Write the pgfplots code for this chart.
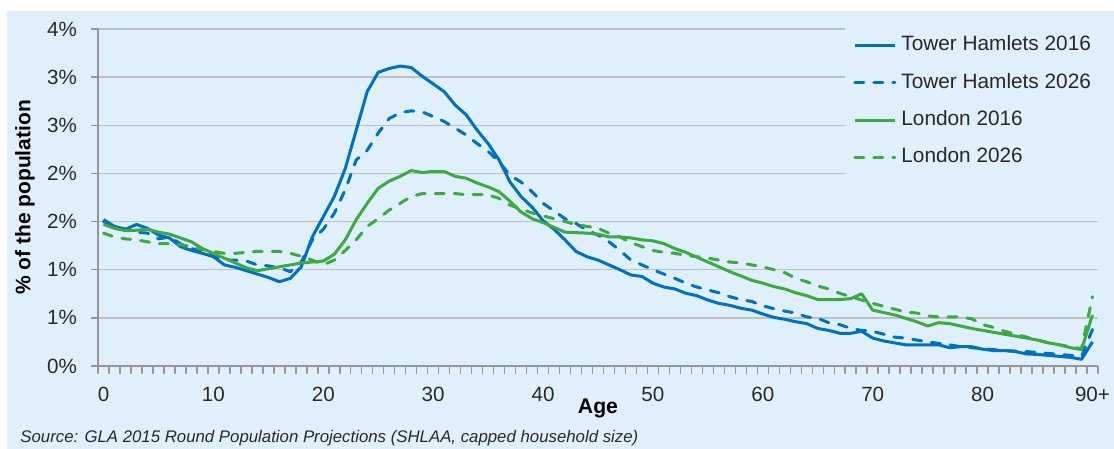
\documentclass[border=0pt]{standalone}
\usepackage{fontspec}
\setmainfont{Liberation Sans}
\usepackage{pgfplots}
\pgfplotsset{compat=1.18}
\usepackage{pgfplotstable}
\definecolor{bgblue}{RGB}{223,240,252}
\definecolor{thblue}{RGB}{0,112,192}
\definecolor{ldgreen}{RGB}{60,170,65}
\definecolor{gridgrey}{RGB}{192,192,192}
\definecolor{axisgrey}{RGB}{150,150,150}
\definecolor{txt}{RGB}{40,40,40}

\pgfplotstableread{
age th16 th26 l16 l26
0 1.52 1.50 1.47 1.38
1 1.45 1.45 1.43 1.34
2 1.42 1.42 1.405 1.32
3 1.47 1.39 1.41 1.31
4 1.43 1.38 1.42 1.29
5 1.36 1.32 1.39 1.27
6 1.33 1.34 1.37 1.27
7 1.24 1.27 1.33 1.26
8 1.20 1.22 1.29 1.24
9 1.17 1.19 1.22 1.21
10 1.135 1.15 1.17 1.19
11 1.05 1.10 1.12 1.17
12 1.025 1.10 1.07 1.17
13 0.99 1.09 1.02 1.18
14 0.955 1.05 0.99 1.19
15 0.92 1.04 1.01 1.19
16 0.875 1.02 1.03 1.19
17 0.91 0.98 1.05 1.17
18 1.03 1.08 1.07 1.14
19 1.34 1.31 1.08 1.10
20 1.55 1.42 1.09 1.05
21 1.76 1.585 1.16 1.10
22 2.05 1.83 1.31 1.20
23 2.45 2.14 1.52 1.31
24 2.85 2.24 1.69 1.45
25 3.05 2.42 1.845 1.53
26 3.09 2.57 1.92 1.62
27 3.115 2.63 1.97 1.69
28 3.10 2.65 2.03 1.76
29 3.01 2.64 2.01 1.79
30 2.93 2.59 2.02 1.79
31 2.85 2.54 2.02 1.79
32 2.71 2.47 1.97 1.79
33 2.61 2.40 1.95 1.78
34 2.45 2.31 1.90 1.78
35 2.31 2.23 1.86 1.78
36 2.14 2.12 1.81 1.74
37 1.91 1.98 1.71 1.67
38 1.76 1.91 1.60 1.63
39 1.65 1.81 1.53 1.59
40 1.51 1.69 1.49 1.56
41 1.42 1.61 1.44 1.53
42 1.31 1.53 1.39 1.50
43 1.19 1.48 1.385 1.47
44 1.135 1.41 1.38 1.45
45 1.10 1.36 1.37 1.43
46 1.05 1.29 1.34 1.38
47 1.00 1.20 1.34 1.34
48 0.945 1.10 1.33 1.28
49 0.93 1.05 1.31 1.24
50 0.86 1.00 1.30 1.20
51 0.82 0.955 1.27 1.18
52 0.80 0.91 1.22 1.17
53 0.755 0.86 1.18 1.15
54 0.73 0.82 1.13 1.135
55 0.685 0.79 1.08 1.12
56 0.65 0.76 1.03 1.10
57 0.63 0.72 0.98 1.08
58 0.60 0.69 0.935 1.07
59 0.58 0.67 0.89 1.05
60 0.54 0.625 0.86 1.03
61 0.505 0.595 0.825 1.00
62 0.485 0.57 0.80 0.97
63 0.46 0.55 0.76 0.91
64 0.44 0.51 0.73 0.875
65 0.39 0.495 0.69 0.83
66 0.37 0.45 0.69 0.80
67 0.34 0.43 0.69 0.755
68 0.34 0.39 0.70 0.72
69 0.36 0.37 0.75 0.685
70 0.29 0.36 0.58 0.65
71 0.26 0.33 0.555 0.62
72 0.24 0.30 0.53 0.59
73 0.22 0.29 0.495 0.56
74 0.22 0.27 0.46 0.55
75 0.22 0.25 0.415 0.52
76 0.22 0.235 0.45 0.51
77 0.19 0.22 0.44 0.51
78 0.20 0.20 0.415 0.51
79 0.20 0.19 0.39 0.49
80 0.175 0.18 0.37 0.43
81 0.16 0.17 0.35 0.40
82 0.16 0.16 0.33 0.36
83 0.15 0.155 0.31 0.33
84 0.125 0.15 0.29 0.30
85 0.12 0.14 0.27 0.27
86 0.11 0.13 0.24 0.24
87 0.10 0.12 0.22 0.22
88 0.09 0.11 0.19 0.20
89 0.07 0.10 0.17 0.18
90 0.25 0.38 0.53 0.72
}\popdata

\begin{document}
\begin{tikzpicture}
\fill[white] (-49pt,-41.5pt) rectangle (508pt,183pt);
\fill[bgblue] (-45.5pt,-41.5pt) rectangle (508pt,177.5pt);
\begin{axis}[
  scale only axis, width=500pt, height=168.5pt,
  xmin=-0.5, xmax=90.5, ymin=0, ymax=3.5,
  axis x line*=bottom, axis y line*=left,
  axis line style={axisgrey, line width=0.75pt},
  xtick={0,10,...,90},
  xticklabels={0,10,20,30,40,50,60,70,80,90+},
  minor xtick={-0.5,0.5,...,90.5},
  ytick={0,0.5,...,3.5},
  yticklabels={0\%,1\%,1\%,2\%,2\%,3\%,3\%,4\%},
  ymajorgrids,
  major grid style={gridgrey, line width=0.75pt},
  tick align=outside,
  major tick length=3.5pt, minor tick length=4pt,
  major x tick style={draw=none},
  minor x tick style={axisgrey, line width=0.75pt},
  major y tick style={axisgrey, line width=0.75pt},
  tick label style={font=\fontsize{10.3}{12}\selectfont, text=txt},
  yticklabel style={xshift=-3.5pt},
  xticklabel style={yshift=-3.5pt},
  xlabel={Age}, ylabel={\% of the population},
  every axis x label/.style={at={(rel axis cs:0.5,0)}, anchor=base, yshift=-24pt, font=\fontsize{10.6}{12}\selectfont\bfseries},
  every axis y label/.style={at={(rel axis cs:-0.073,0.5)}, anchor=center, rotate=90, font=\fontsize{10.5}{12}\selectfont\bfseries},
  legend style={at={(0.747,1.027)}, anchor=north west, fill=bgblue, draw=none,
    inner xsep=4pt, inner ysep=7.7pt, row sep=9.2pt,
    font=\fontsize{10.4}{12}\selectfont, text=txt,
    nodes={inner sep=0pt, text height=7.5pt, text depth=2pt},
    /tikz/every odd column/.append style={column sep=2.5pt}},
  legend cell align=left,
  legend image code/.code={\draw[#1] (0pt,0pt) -- (20pt,0pt);},
]
\addplot[thblue, line width=1.5pt, line join=round] table[x=age,y=th16]{\popdata};
\addlegendentry{Tower Hamlets 2016}
\addplot[thblue, line width=1.5pt, line join=round, line cap=round, dash pattern=on 4.5pt off 5pt] table[x=age,y=th26]{\popdata};
\addlegendentry{Tower Hamlets 2026}
\addplot[ldgreen, line width=1.5pt, line join=round] table[x=age,y=l16]{\popdata};
\addlegendentry{London 2016}
\addplot[ldgreen, line width=1.5pt, line join=round, line cap=round, dash pattern=on 4.5pt off 5pt] table[x=age,y=l26]{\popdata};
\addlegendentry{London 2026}
\end{axis}
\node[anchor=base west, inner sep=0pt, text=txt, font=\fontsize{8.4}{10}\selectfont\itshape] at (-39pt,-38.5pt) {Source: GLA 2015 Round Population Projections (SHLAA, capped household size)};
\pgfresetboundingbox
\useasboundingbox (-49pt,-41.5pt) rectangle (508pt,183pt);
\end{tikzpicture}
\end{document}
